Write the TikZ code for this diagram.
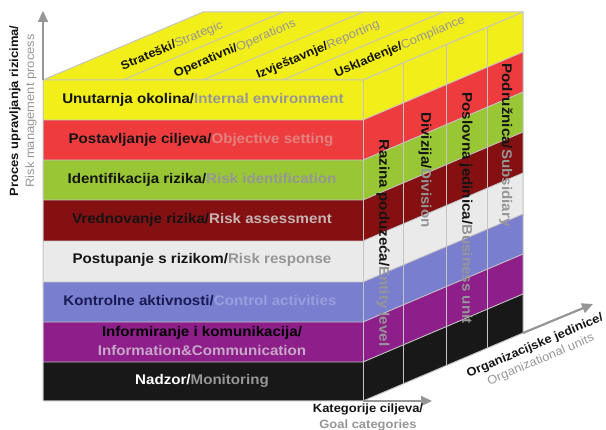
\documentclass[tikz,border=0pt]{standalone}
\usepackage{fontspec}
\setmainfont{Liberation Sans}[FakeStretch=1.08]
\usetikzlibrary{arrows.meta}
\definecolor{cyel}{RGB}{242,238,26}
\definecolor{cred}{RGB}{238,60,62}
\definecolor{cgrn}{RGB}{152,198,52}
\definecolor{cdrd}{RGB}{132,16,18}
\definecolor{cwht}{RGB}{234,234,234}
\definecolor{cblu}{RGB}{122,126,206}
\definecolor{cpur}{RGB}{142,30,138}
\definecolor{cblk}{RGB}{24,24,24}
\definecolor{gline}{RGB}{196,196,196}
\definecolor{axgray}{RGB}{150,150,150}
\definecolor{eng}{RGB}{150,150,150}
\definecolor{engred}{RGB}{226,128,128}
\definecolor{engdrd}{RGB}{196,180,180}
\definecolor{engblu}{RGB}{152,158,222}
\definecolor{engpur}{RGB}{200,168,200}
\definecolor{navy}{RGB}{26,26,84}
\definecolor{txt}{RGB}{20,20,20}
\begin{document}
\begin{tikzpicture}[x=1pt,y=-1pt,
  gridline/.style={draw=gline,line width=0.9pt},
  edgeline/.style={draw=gline,line width=1pt},
  axisarrow/.style={draw=axgray,line width=2.2pt,-{Triangle[length=11pt,width=10pt]}},
  bandlbl/.style={inner sep=0pt,font=\fontsize{14}{16}\selectfont\bfseries,text=txt},
  sidelbl/.style={inner sep=0pt,font=\fontsize{14}{16}\selectfont\bfseries,text=txt,rotate=-90},
  toplbl/.style={inner sep=0pt,font=\fontsize{12}{14}\selectfont,text=txt,rotate=23},
  axlbl/.style={inner sep=0pt,font=\fontsize{12}{15}\selectfont,text=txt,align=center}]
\useasboundingbox (0,0) rectangle (606,430);

% cube corners
\coordinate (fl) at (43,80);
\coordinate (fr) at (363,80);
\coordinate (bl) at (203,12);
\coordinate (br) at (523,12);
\coordinate (flb) at (43,401);
\coordinate (frb) at (363,401);
\coordinate (brb) at (523,333);
\coordinate (axtop) at (43,11);
\coordinate (axright) at (432,401);
\coordinate (axdepth) at (593,304);

% top face
\fill[cyel] (fl) -- (bl) -- (br) -- (fr) -- cycle;

% bands (front and right faces)
\foreach \yt/\yb/\col in {80/120/cyel,120/160/cred,160/200/cgrn,200/241/cdrd,241/282/cwht,282/322/cblu,322/362/cpur,362/401/cblk}{
  \fill[\col] (43,\yt) rectangle (363,\yb);
  \fill[\col] (363,\yt) -- (523,\yt-68) -- (523,\yb-68) -- (363,\yb) -- cycle;
}
% band separators
\foreach \y in {120,160,200,241,282,322,362}{
  \draw[gridline] (43,\y) -- (363,\y) -- (523,\y-68);
}
% right face dividers
\foreach \x in {403,446,487}{
  \draw[gridline] (\x,{80-68*(\x-363)/160}) -- (\x,{401-68*(\x-363)/160});
}
% top face dividers
\foreach \x in {123,203,283}{
  \draw[gridline] (\x,80) -- (\x+160,12);
}
% outline
\draw[edgeline] (fl) -- (bl) -- (br) -- (brb) -- (frb) -- (flb) -- cycle;
\draw[edgeline] (fl) -- (fr) -- (br);
\draw[edgeline] (fr) -- (frb);

% axes
\draw[axisarrow] (fl) -- (axtop);
\draw[axisarrow] (frb) -- (axright);
\draw[axisarrow] (brb) -- (axdepth);

% front labels
\node[bandlbl] (l1) at (203,100) {Unutarnja okolina/\textcolor{eng}{Internal environment}};
\node[bandlbl] (l2) at (201,140) {Postavljanje ciljeva/\textcolor{engred}{Objective setting}};
\node[bandlbl] (l3) at (202,180) {Identifikacija rizika/\textcolor{eng}{Risk identification}};
\node[bandlbl] (l4) at (202,220) {Vrednovanje rizika/\textcolor{engdrd}{Risk assessment}};
\node[bandlbl] (l5) at (202,260) {Postupanje s rizikom/\textcolor{eng}{Risk response}};
\node[bandlbl,text=navy] (l6) at (200,301) {Kontrolne aktivnosti/\textcolor{engblu}{Control activities}};
\node[bandlbl,text=black,align=center,font=\fontsize{14}{19}\selectfont\bfseries] (l7) at (202,340.5) {Informiranje i komunikacija/\\\textcolor{engpur}{Information\&Communication}};
\node[bandlbl,text=white] (l8) at (202,381) {Nadzor/\textcolor{eng}{Monitoring}};

% top labels
\node[toplbl] (t1) at (172,46) {\textbf{Strateški/}\textcolor{eng}{Strategic}};
\node[toplbl] (t2) at (235,49) {\textbf{Operativni/}\textcolor{eng}{Operations}};
\node[toplbl] (t3) at (318,50) {\textbf{Izvještavnje/}\textcolor{eng}{Reporting}};
\node[toplbl] (t4) at (400,47) {\textbf{Uskladenje/}\textcolor{eng}{Compliance}};

% right face labels
\node[sidelbl] (s1) at (383,243) {Razina poduzeća/\textcolor{eng}{Entity level}};
\node[sidelbl] (s2) at (425,170) {Divizija/\textcolor{eng}{Division}};
\node[sidelbl] (s3) at (466,208) {Poslovna jedinica/\textcolor{eng}{Business unit}};
\node[sidelbl] (s4) at (506,145) {Podružnica/\textcolor{eng}{Subsidiary}};

% axis labels
\node[axlbl,rotate=90,font=\fontsize{12}{16}\selectfont] (pl) at (23,111) {\textbf{Proces upravljanja rizicima/}\\\textcolor{eng}{Risk management process}};
\node[axlbl,font=\fontsize{12}{16}\selectfont\bfseries] (kl) at (368,417) {Kategorije ciljeva/\\\textcolor{eng}{Goal categories}};
\node[axlbl,rotate=23] (ol) at (538,353) {\textbf{Organizacijske jedinice/}\\\textcolor{eng}{Organizational units}};
\end{tikzpicture}
\end{document}
